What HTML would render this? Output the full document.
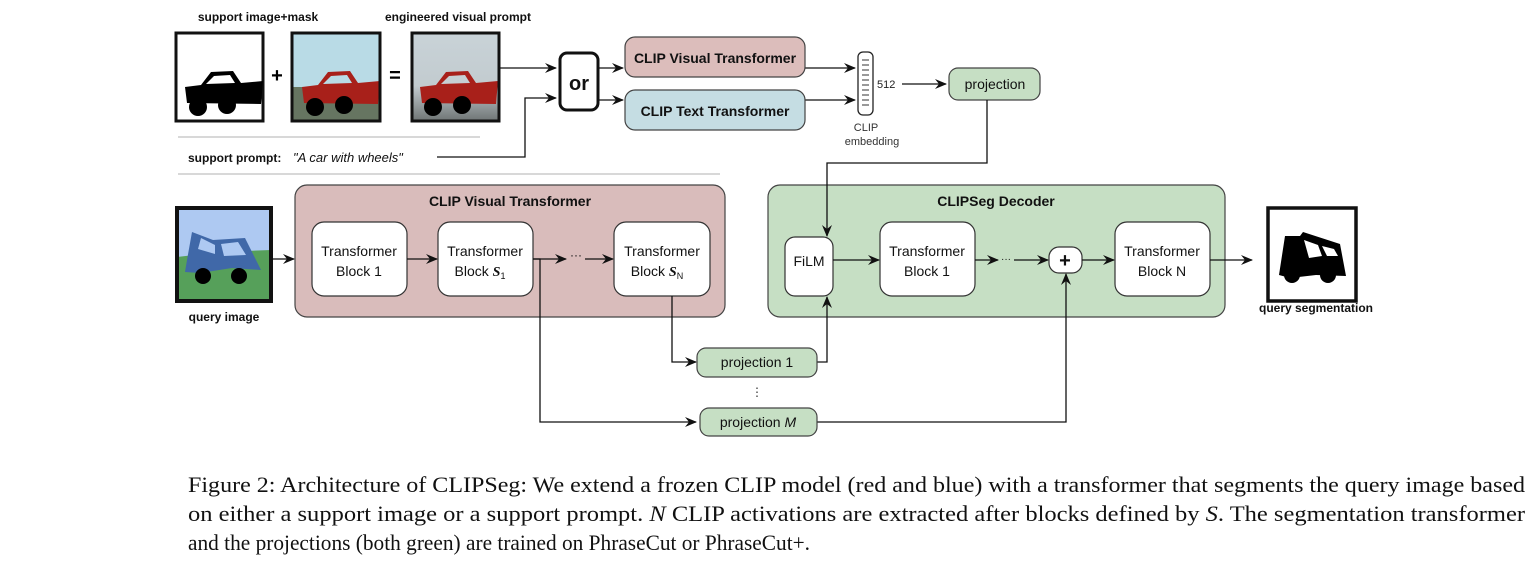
<!DOCTYPE html>
<html><head><meta charset="utf-8"><style>
html,body{margin:0;padding:0;background:#fff;}
svg{display:block;}
.s{font-family:"Liberation Sans","DejaVu Sans",sans-serif;}
.b{font-weight:bold;}
.cap{font-family:"Liberation Serif",serif;font-size:22px;fill:#111;}
</style></head><body>
<svg width="1540" height="584" viewBox="0 0 1540 584" xmlns="http://www.w3.org/2000/svg">
<defs>
<marker id="a" markerWidth="12" markerHeight="10" refX="11" refY="5" orient="auto" markerUnits="userSpaceOnUse">
<path d="M0,0 L12,5 L0,10 L4,5 z" fill="#111"/></marker>
<linearGradient id="sh" x1="0" y1="0" x2="0" y2="1"><stop offset="0" stop-color="#c9d3d8"/><stop offset="0.6" stop-color="#c2cbcf"/><stop offset="1" stop-color="#6f7575"/></linearGradient>
</defs>
<g class="s" fill="#111">
<text x="258" y="21" font-size="12" class="b" text-anchor="middle">support image+mask</text>
<text x="458" y="21" font-size="12" class="b" text-anchor="middle">engineered visual prompt</text>
</g>
<!-- img1 -->
<rect x="176" y="33" width="87" height="88" fill="#fff" stroke="#111" stroke-width="3"/>
<g transform="translate(175,32)">
<path d="M10,55 L26,53 L36,40 L58,39 L66,51 L88,49 L86,72 L12,71 z" fill="#000"/>
<path d="M31,52 L39,44 L55,43 L60,51 z" fill="#fff"/>
<circle cx="23" cy="75" r="9" fill="#000"/><circle cx="52" cy="73" r="9" fill="#000"/></g>
<text x="277" y="82" class="s b" font-size="20" text-anchor="middle">+</text>
<!-- img2 -->
<rect x="292" y="33" width="88" height="88" fill="#b9dbe6"/>
<rect x="292" y="87" width="88" height="34" fill="#667561"/>
<g transform="translate(292,32)">
<path d="M10,55 L26,53 L36,40 L58,39 L66,51 L88,49 L86,72 L12,71 z" fill="#a8201a"/>
<path d="M31,52 L39,44 L55,43 L60,51 z" fill="#b9dbe6"/>
<circle cx="23" cy="75" r="9" fill="#000"/><circle cx="52" cy="73" r="9" fill="#000"/></g>
<rect x="292" y="33" width="88" height="88" fill="none" stroke="#111" stroke-width="3"/>
<text x="395" y="82" class="s b" font-size="20" text-anchor="middle">=</text>
<!-- img3 -->
<rect x="412" y="33" width="87" height="88" fill="url(#sh)"/>
<g transform="translate(410,32)">
<path d="M10,55 L26,53 L36,40 L58,39 L66,51 L88,49 L86,72 L12,71 z" fill="#a8201a"/>
<path d="M31,52 L39,44 L55,43 L60,51 z" fill="#c6cfd3"/>
<circle cx="23" cy="75" r="9" fill="#000"/><circle cx="52" cy="73" r="9" fill="#000"/></g>
<rect x="412" y="33" width="87" height="88" fill="none" stroke="#111" stroke-width="3"/>
<!-- separators -->
<line x1="178" y1="137" x2="480" y2="137" stroke="#ccc" stroke-width="1.5"/>
<line x1="178" y1="174" x2="720" y2="174" stroke="#ccc" stroke-width="1.5"/>
<text x="188" y="162" class="s b" font-size="12" fill="#111">support prompt:</text>
<text x="293" y="162" class="s" font-size="13" font-style="italic" fill="#111">"A car with wheels"</text>
<g stroke="#111" stroke-width="1.3" fill="none">
<polyline points="437,157 525,157 525,98 556,98" marker-end="url(#a)"/>
<line x1="500" y1="68" x2="556" y2="68" marker-end="url(#a)"/>
<line x1="598" y1="68" x2="623" y2="68" marker-end="url(#a)"/>
<line x1="598" y1="100" x2="623" y2="100" marker-end="url(#a)"/>
<line x1="805" y1="68" x2="855" y2="68" marker-end="url(#a)"/>
<line x1="805" y1="100" x2="855" y2="100" marker-end="url(#a)"/>
<line x1="902" y1="84" x2="946" y2="84" marker-end="url(#a)"/>
</g>
<rect x="560" y="53" width="38" height="57" rx="7" fill="#fff" stroke="#111" stroke-width="3"/>
<text x="579" y="90" class="s b" font-size="20" text-anchor="middle" fill="#111">or</text>
<rect x="625" y="37" width="180" height="40" rx="10" fill="#dcbdbb" stroke="#444" stroke-width="1.2"/>
<text x="715" y="63" class="s b" font-size="14" text-anchor="middle" fill="#111">CLIP Visual Transformer</text>
<rect x="625" y="90" width="180" height="40" rx="10" fill="#c5dde3" stroke="#444" stroke-width="1.2"/>
<text x="715" y="116" class="s b" font-size="14" text-anchor="middle" fill="#111">CLIP Text Transformer</text>
<rect x="858" y="52" width="15" height="63" rx="5" fill="#fff" stroke="#222" stroke-width="1.3"/>
<g stroke="#333" stroke-width="1">
<line x1="862" y1="60" x2="869" y2="60"/><line x1="862" y1="65" x2="869" y2="65"/><line x1="862" y1="70" x2="869" y2="70"/><line x1="862" y1="75" x2="869" y2="75"/><line x1="862" y1="80" x2="869" y2="80"/><line x1="862" y1="85" x2="869" y2="85"/><line x1="862" y1="90" x2="869" y2="90"/><line x1="862" y1="95" x2="869" y2="95"/><line x1="862" y1="100" x2="869" y2="100"/><line x1="862" y1="105" x2="869" y2="105"/></g>
<text x="877" y="88" class="s" font-size="11" fill="#222">512</text>
<text x="866" y="131" class="s" font-size="11" text-anchor="middle" fill="#333">CLIP</text>
<text x="872" y="145" class="s" font-size="11" text-anchor="middle" fill="#333">embedding</text>
<rect x="949" y="68" width="91" height="32" rx="9" fill="#c6dfc4" stroke="#444" stroke-width="1.2"/>
<text x="995" y="89" class="s" font-size="14" text-anchor="middle" fill="#111">projection</text>

<!-- query image -->
<rect x="177" y="208" width="94" height="93" fill="#aec9f2"/>
<polygon points="177,257 220,252 271,250 271,301 177,301" fill="#56a05a"/>
<path d="M187,260 L192,232 L213,240 L245,238 L261,270 L232,268 L200,273 L185,272 z" fill="#4068a8"/>
<path d="M198,249 L201,238 L215,245 L215,254 z" fill="#aec9f2"/><path d="M221,244 L238,242 L246,255 L224,256 z" fill="#aec9f2"/>
<circle cx="203" cy="276" r="8" fill="#000"/><circle cx="239" cy="276" r="8" fill="#000"/>
<rect x="177" y="208" width="94" height="93" fill="none" stroke="#111" stroke-width="4"/>
<text x="224" y="321" class="s b" font-size="12" text-anchor="middle" fill="#111">query image</text>

<!-- red container -->
<rect x="295" y="185" width="430" height="132" rx="12" fill="#d9bcbb" stroke="#444" stroke-width="1.2"/>
<text x="510" y="206" class="s b" font-size="14" text-anchor="middle" fill="#111">CLIP Visual Transformer</text>
<g fill="#fff" stroke="#333" stroke-width="1.2">
<rect x="312" y="222" width="95" height="74" rx="12"/>
<rect x="438" y="222" width="95" height="74" rx="12"/>
<rect x="614" y="222" width="96" height="74" rx="12"/>
</g>
<g class="s" font-size="14" text-anchor="middle" fill="#111">
<text x="359" y="256">Transformer</text><text x="359" y="276">Block 1</text>
<text x="485" y="256">Transformer</text><text x="480" y="276">Block <tspan font-style="italic" font-weight="bold" font-family="Liberation Serif">S</tspan><tspan font-size="9" dy="3">1</tspan></text>
<text x="662" y="256">Transformer</text><text x="657" y="276">Block <tspan font-style="italic" font-weight="bold" font-family="Liberation Serif">S</tspan><tspan font-size="9" dy="3">N</tspan></text>
</g>
<text x="576" y="259" class="s" font-size="12" text-anchor="middle" fill="#111">···</text>

<!-- green container -->
<rect x="768" y="185" width="457" height="132" rx="12" fill="#c6dfc4" stroke="#444" stroke-width="1.2"/>
<text x="996" y="206" class="s b" font-size="14" text-anchor="middle" fill="#111">CLIPSeg Decoder</text>
<g fill="#fff" stroke="#333" stroke-width="1.2">
<rect x="785" y="237" width="48" height="59" rx="10"/>
<rect x="880" y="222" width="95" height="74" rx="12"/>
<rect x="1049" y="247" width="33" height="26" rx="10"/>
<rect x="1115" y="222" width="95" height="74" rx="12"/>
</g>
<g class="s" font-size="14" text-anchor="middle" fill="#111">
<text x="809" y="266">FiLM</text>
<text x="927" y="256">Transformer</text><text x="927" y="276">Block 1</text>
<text x="1162" y="256">Transformer</text><text x="1162" y="276">Block N</text>
<text x="1065" y="267" font-size="20" font-weight="bold">+</text>
</g>
<text x="1006" y="262" class="s" font-size="10" text-anchor="middle" fill="#111">···</text>

<!-- connectors -->
<g stroke="#111" stroke-width="1.3" fill="none">
<line x1="272" y1="259" x2="294" y2="259" marker-end="url(#a)"/>
<line x1="407" y1="259" x2="437" y2="259" marker-end="url(#a)"/>
<line x1="533" y1="259" x2="566" y2="259" marker-end="url(#a)"/>
<line x1="585" y1="259" x2="613" y2="259" marker-end="url(#a)"/>
<polyline points="533,259 540,259 540,422 696,422" marker-end="url(#a)"/>
<polyline points="672,296 672,362 696,362" marker-end="url(#a)"/>
<polyline points="817,362 827,362 827,297" marker-end="url(#a)"/>
<polyline points="817,422 1066,422 1066,274" marker-end="url(#a)"/>
<polyline points="987,100 987,163 827,163 827,236" marker-end="url(#a)"/>
<line x1="833" y1="260" x2="879" y2="260" marker-end="url(#a)"/>
<line x1="975" y1="260" x2="998" y2="260" marker-end="url(#a)"/>
<line x1="1014" y1="260" x2="1048" y2="260" marker-end="url(#a)"/>
<line x1="1082" y1="260" x2="1114" y2="260" marker-end="url(#a)"/>
<line x1="1210" y1="260" x2="1252" y2="260" marker-end="url(#a)"/>
</g>
<rect x="697" y="348" width="120" height="29" rx="9" fill="#c6dfc4" stroke="#444" stroke-width="1.2"/>
<text x="757" y="367" class="s" font-size="14" text-anchor="middle" fill="#111">projection 1</text>
<text x="757" y="396" class="s" font-size="12" text-anchor="middle" fill="#333">⋮</text>
<rect x="700" y="408" width="117" height="28" rx="9" fill="#c6dfc4" stroke="#444" stroke-width="1.2"/>
<text x="758" y="427" class="s" font-size="14" text-anchor="middle" fill="#111">projection <tspan font-style="italic">M</tspan></text>

<!-- output -->
<rect x="1268" y="208" width="88" height="93" fill="#fff" stroke="#111" stroke-width="3.5"/>
<path d="M1279,275 L1285,236 L1300,236 L1303,232 L1340,244 L1346,276 L1316,275 L1290,278 z" fill="#000"/>
<path d="M1304,240 L1309,258 L1322,256 L1318,245 z" fill="#fff"/>
<path d="M1322,246 L1327,256 L1338,256 L1334,249 z" fill="#fff"/>
<circle cx="1292" cy="275" r="8" fill="#000"/><circle cx="1328" cy="275" r="8" fill="#000"/>
<text x="1316" y="312" class="s b" font-size="12" text-anchor="middle" fill="#111">query segmentation</text>

<!-- caption -->
<text x="188" y="492" class="cap" textLength="1337" lengthAdjust="spacingAndGlyphs">Figure 2: Architecture of CLIPSeg: We extend a frozen CLIP model (red and blue) with a transformer that segments the query image based</text>
<text x="188" y="521" class="cap" textLength="1337" lengthAdjust="spacingAndGlyphs">on either a support image or a support prompt. <tspan font-style="italic">N</tspan> CLIP activations are extracted after blocks defined by <tspan font-style="italic">S</tspan>. The segmentation transformer</text>
<text x="188" y="550" class="cap" textLength="622" lengthAdjust="spacingAndGlyphs">and the projections (both green) are trained on PhraseCut or PhraseCut+.</text>
</svg>
</body></html>
